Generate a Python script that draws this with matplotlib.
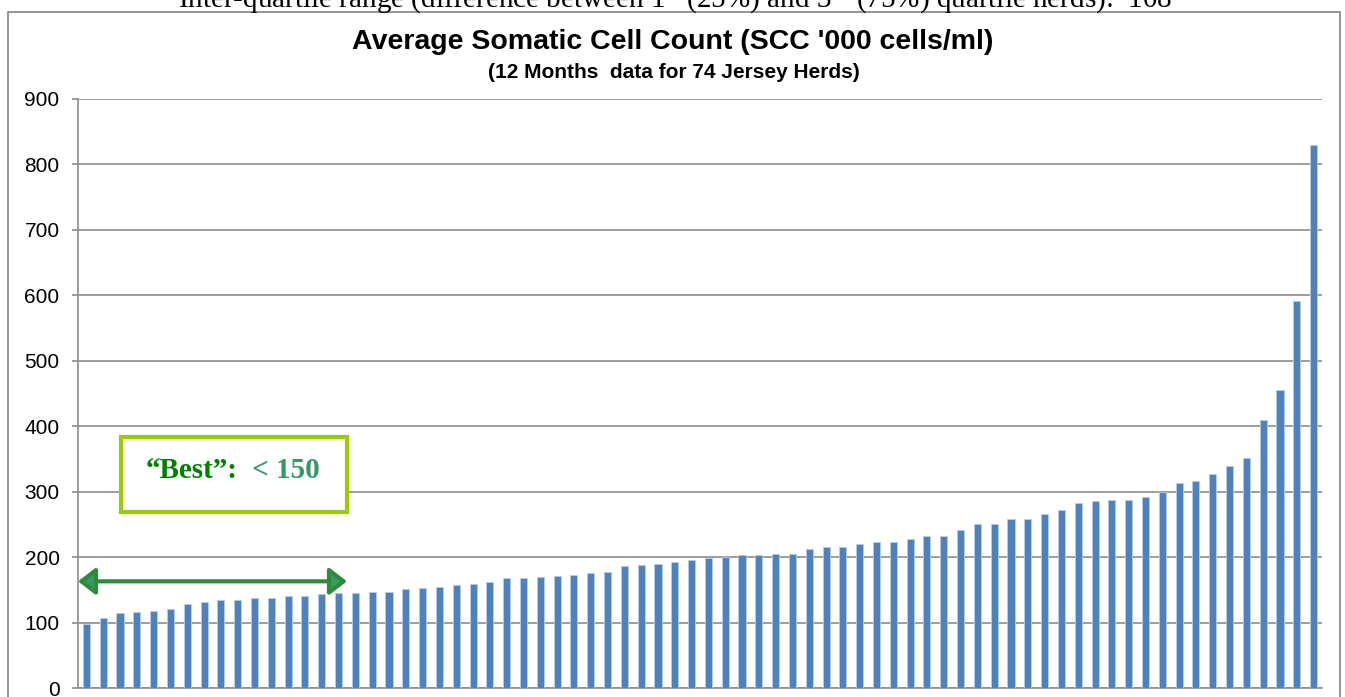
import numpy as np
import matplotlib
matplotlib.use("Agg")
import matplotlib.pyplot as plt
from matplotlib.patches import Rectangle

# average SCC ('000 cells/ml) per herd, sorted ascending, 74 Jersey herds
scc = [98, 107, 115, 116, 118, 121, 128, 131, 135, 135,
       137, 138, 140, 141, 143, 145, 145, 146, 146, 151,
       153, 155, 157, 159, 162, 168, 168, 170, 171, 173,
       175, 177, 186, 188, 189, 192, 195, 198, 200, 203,
       203, 205, 205, 213, 215, 216, 220, 223, 223, 227,
       232, 232, 242, 251, 251, 258, 258, 266, 272, 283,
       285, 287, 287, 292, 300, 314, 316, 327, 339, 351,
       409, 455, 592, 830]
yticks = list(range(0, 1000, 100))

title = "Average Somatic Cell Count (SCC '000 cells/ml)"
subtitle = "(12 Months  data for 74 Jersey Herds)"
top_line = (r"Inter-quartile range (difference between 1$^{\mathrm{st}}$ (25%) and "
            r"3$^{\mathrm{rd}}$ (75%) quartile herds):  108")

plt.rcParams["font.family"] = ["Liberation Sans", "DejaVu Sans"]
plt.rcParams["mathtext.fontset"] = "custom"
plt.rcParams["mathtext.rm"] = "Liberation Serif"

W, H = 1345, 697
fig = plt.figure(figsize=(W / 100, H / 100), dpi=100)
ax = fig.add_axes([78 / W, 9 / H, (1322 - 78) / W, (688 - 99) / H])

x = np.arange(len(scc))
ax.bar(x, scc, width=0.42, color="#4F81BD", edgecolor="#B9CDE5", linewidth=0.6, zorder=3)

ax.set_xlim(-0.5, len(scc) - 0.5)
ax.set_ylim(0, 900)
ax.set_yticks(yticks)
ax.set_xticks([])
ax.tick_params(axis="y", length=4.3, width=1.2, color="#8C8C8C", pad=9, labelsize=15)
ax.yaxis.grid(True, color="#8C8C8C", lw=1.2, zorder=0)
for s in ["top", "right"]:
    ax.spines[s].set_visible(False)
ax.spines["left"].set_color("#8C8C8C")
ax.spines["left"].set_linewidth(1.2)
ax.spines["bottom"].set_color("#8C8C8C")
ax.spines["bottom"].set_linewidth(1.2)

# chart frame
fig.patches.append(Rectangle((8 / W, -0.05), (1340 - 8) / W, 1.05 - 12 / H,
                             transform=fig.transFigure, fill=False,
                             edgecolor="#8C8C8C", lw=1.3))

fig.text(673 / W, 1 - 42 / H, title, ha="center", va="center",
         fontsize=20.5, fontweight="bold")
fig.text(674 / W, 1 - 72 / H, subtitle, ha="center", va="center",
         fontsize=15, fontweight="bold")
fig.text(675 / W, 1 - 7 / H, top_line, ha="center", va="baseline",
         fontsize=21, family=["Liberation Serif", "DejaVu Serif"])

# "best" double arrow up to herd 16
ax.annotate("", xy=(-0.5, 163), xytext=(15.5, 163),
            arrowprops=dict(arrowstyle="<|-|>,head_length=0.35,head_width=0.27",
                            facecolor="#3A9A5E", edgecolor="#2E8B3E", lw=3,
                            mutation_scale=30, shrinkA=0, shrinkB=0),
            annotation_clip=False, zorder=5)

ax.add_patch(Rectangle((0.0346, 0.299), 0.182, 0.127, transform=ax.transAxes,
                       fill=True, facecolor="white", edgecolor="#99CC00",
                       lw=3, zorder=6))
ax.text(0.054, 0.370, "\u201cBest\u201d:", transform=ax.transAxes, ha="left",
        va="center", fontsize=21, fontweight="bold", color="#008000",
        family=["Liberation Serif"], zorder=7)
ax.text(0.1945, 0.370, "< 150", transform=ax.transAxes, ha="right",
        va="center", fontsize=21, fontweight="bold", color="#339966",
        family=["Liberation Serif"], zorder=7)

fig.savefig("out.png", dpi=100)
